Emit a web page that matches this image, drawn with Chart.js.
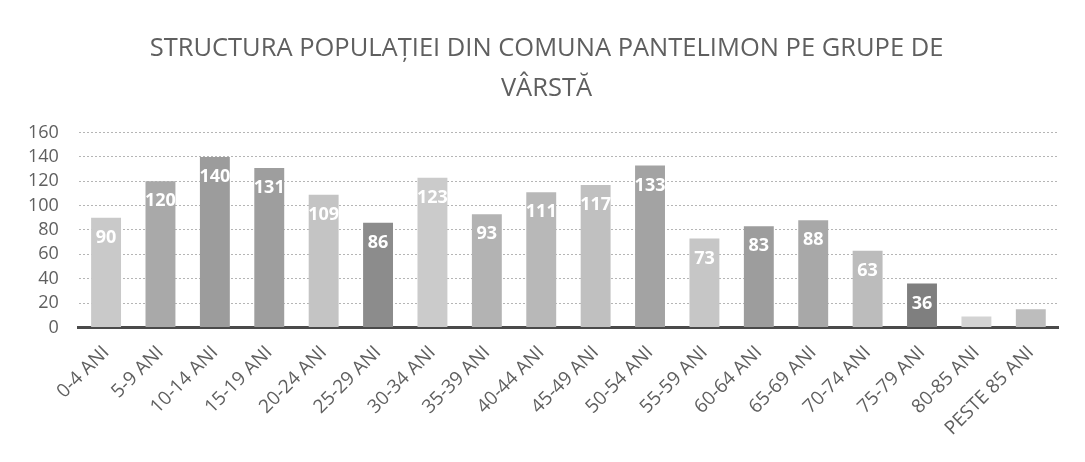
<!DOCTYPE html>
<html>
<head>
<meta charset="utf-8">
<script src="https://cdn.jsdelivr.net/npm/chart.js@4/dist/chart.umd.min.js"></script>
<style>
  html, body { margin: 0; padding: 0; background: #ffffff; }
  #wrap { width: 1085px; height: 462px; position: relative; }
</style>
</head>
<body>
<div id="wrap"><canvas id="chart"></canvas></div>
<script>
// age groups and population counts
const ageGroups = [
  '0-4 ANI', '5-9 ANI', '10-14 ANI', '15-19 ANI', '20-24 ANI', '25-29 ANI',
  '30-34 ANI', '35-39 ANI', '40-44 ANI', '45-49 ANI', '50-54 ANI', '55-59 ANI',
  '60-64 ANI', '65-69 ANI', '70-74 ANI', '75-79 ANI', '80-85 ANI', 'PESTE 85 ANI'
];
const population = [90, 120, 140, 131, 109, 86, 123, 93, 111, 117, 133, 73, 83, 88, 63, 36, 9, 15];
const yTicks = [0, 20, 40, 60, 80, 100, 120, 140, 160];
const titleLines = ['STRUCTURA POPULAȚIEI DIN COMUNA PANTELIMON PE GRUPE DE', 'VÂRSTĂ'];

// grey tones of the scan, one per bar
const shades = [
  '#c9c9c9', '#a9a9a9', '#9c9c9c', '#9e9e9e', '#c4c4c4', '#8c8c8c',
  '#cbcbcb', '#b3b3b3', '#b8b8b8', '#c0c0c0', '#a3a3a3', '#c6c6c6',
  '#9d9d9d', '#a8a8a8', '#bcbcbc', '#7f7f7f', '#d3d3d3', '#bdbdbd'
];

const textGrey = '#5f5f5f';

// white value labels just inside the top of each bar
const insideLabels = {
  id: 'insideLabels',
  afterDatasetsDraw(chart) {
    const ctx = chart.ctx;
    const meta = chart.getDatasetMeta(0);
    ctx.save();
    ctx.fillStyle = '#ffffff';
    ctx.font = 'bold 18px "Open Sans"';
    ctx.textAlign = 'center';
    ctx.textBaseline = 'middle';
    meta.data.forEach((bar, i) => {
      if (population[i] < 20) return;
      ctx.fillText(String(population[i]), bar.x, bar.y + 20);
    });
    ctx.restore();
  }
};

new Chart(document.getElementById('chart'), {
  type: 'bar',
  data: {
    labels: ageGroups,
    datasets: [{
      data: population,
      backgroundColor: shades,
      borderWidth: 0,
      categoryPercentage: 1,
      barPercentage: 0.55
    }]
  },
  options: {
    responsive: true,
    maintainAspectRatio: false,
    animation: false,
    // title is centred on the full width, the plot keeps a right margin via the x scale
    layout: { padding: { left: 8, right: 0, top: 8, bottom: 8 } },
    plugins: {
      legend: { display: false },
      tooltip: { enabled: false },
      title: {
        display: true,
        text: titleLines,
        color: textGrey,
        font: { family: '"Open Sans"', size: 25.5, weight: 'normal', lineHeight: 1.6 },
        padding: { top: 20, bottom: 23 }
      }
    },
    scales: {
      x: {
        grid: { display: false, drawTicks: false },
        border: { color: '#4a4a4a', width: 3 },
        afterFit(scale) { scale.paddingLeft = 0; scale.paddingRight = 27; },
        ticks: {
          color: textGrey,
          font: { family: '"Open Sans"', size: 19 },
          minRotation: 45,
          maxRotation: 45,
          padding: 14
        }
      },
      y: {
        min: 0,
        max: 160,
        afterBuildTicks(axis) { axis.ticks = yTicks.map(v => ({ value: v })); },
        grid: { color: '#b5b5b5', drawTicks: false, lineWidth: 1 },
        border: { display: false, dash: [2, 2] },
        ticks: {
          autoSkip: false,
          color: textGrey,
          font: { family: '"Open Sans"', size: 18 },
          padding: 20
        }
      }
    }
  },
  plugins: [insideLabels]
});
</script>
</body>
</html>
